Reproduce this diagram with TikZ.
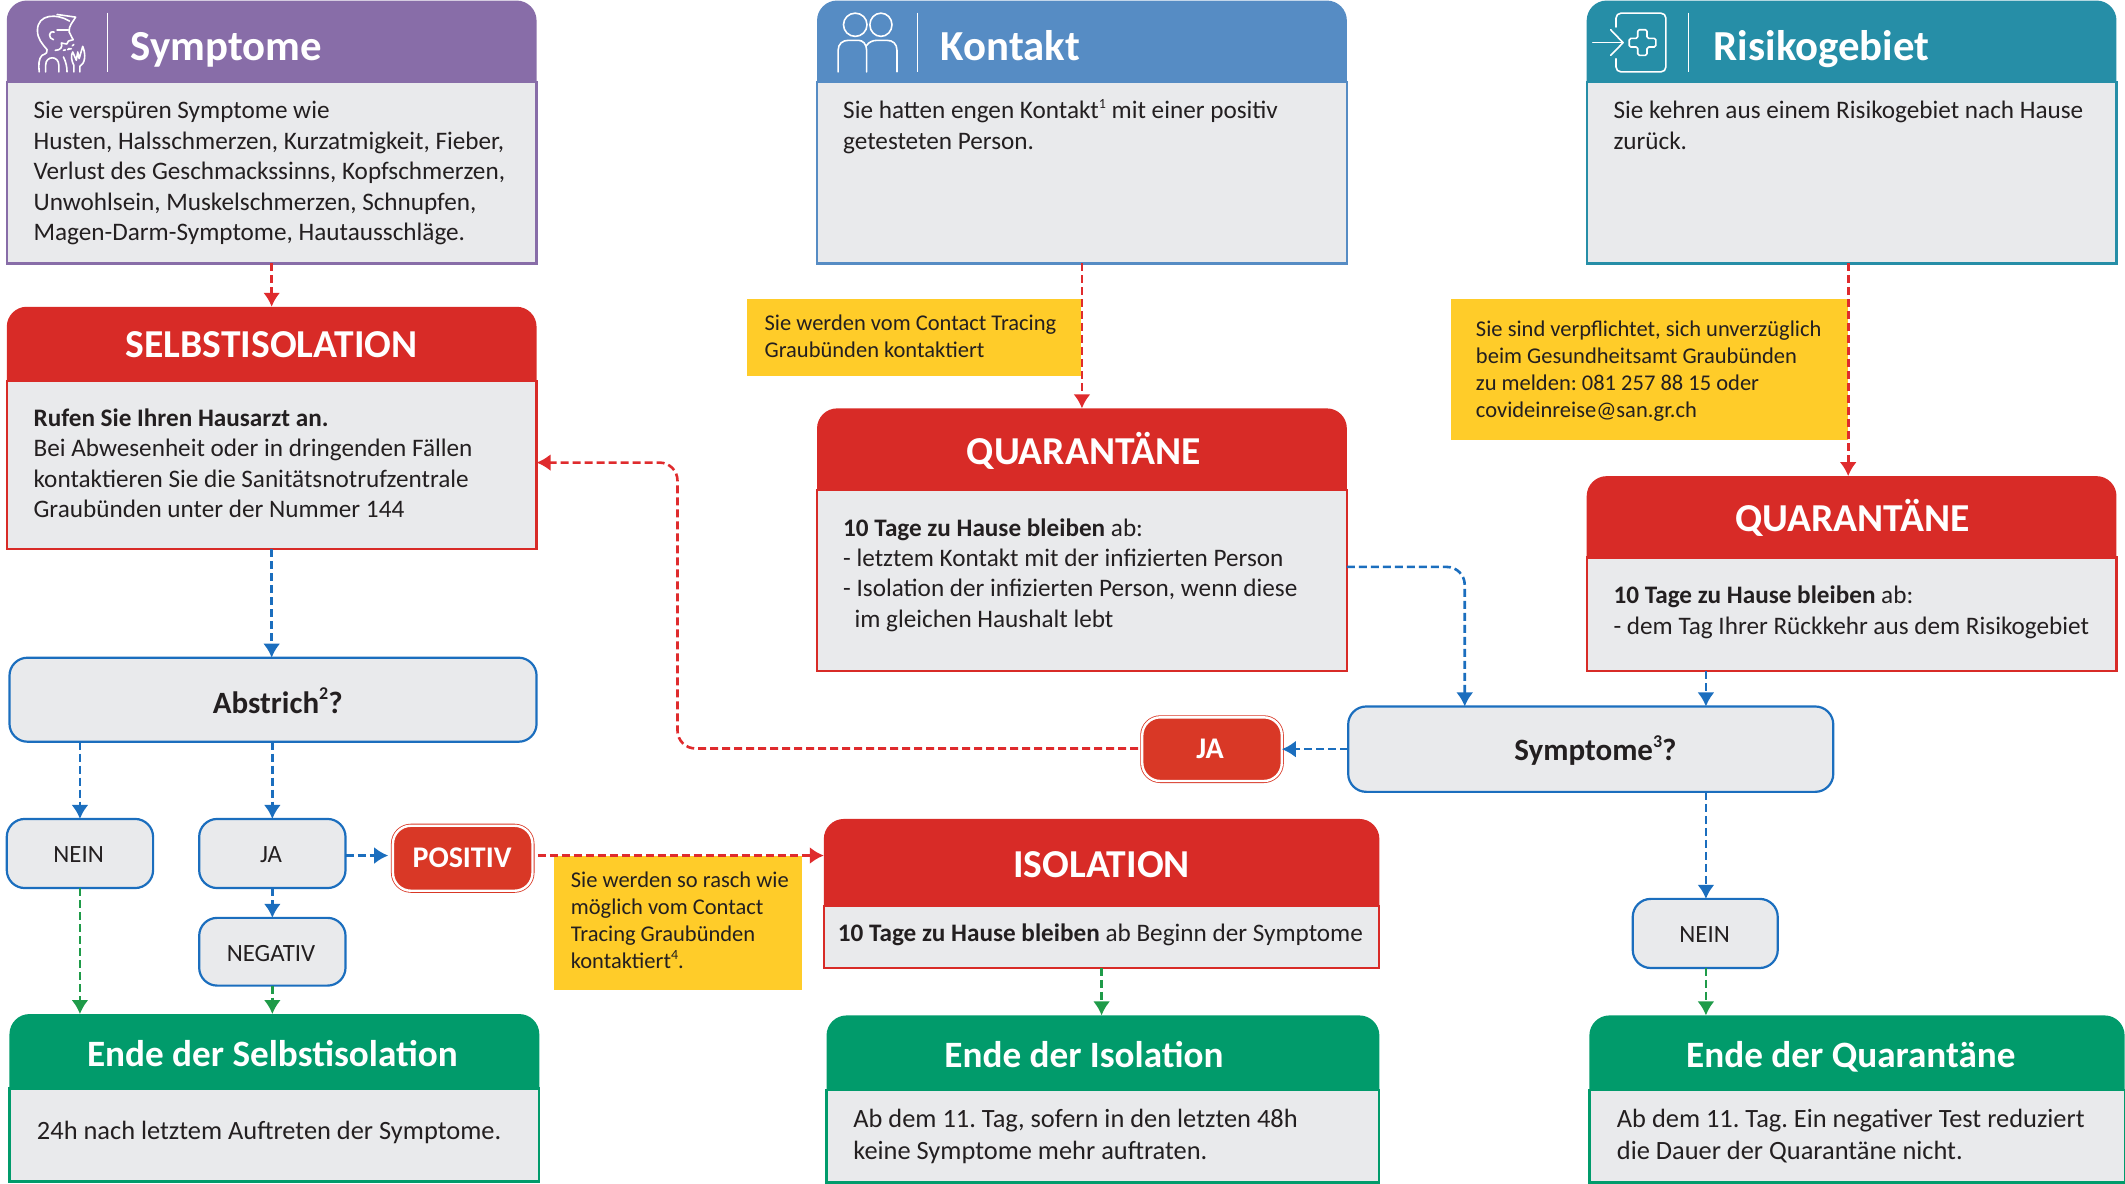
\documentclass[tikz,border=0pt]{standalone}
\usepackage{fontspec}
\setmainfont{Carlito}
\usetikzlibrary{arrows.meta,fit,calc}
\definecolor{bodygray}{HTML}{E9EAEC}
\definecolor{cpurple}{HTML}{886DA8}
\definecolor{cblue}{HTML}{568CC4}
\definecolor{cteal}{HTML}{268EA7}
\definecolor{cred}{HTML}{D82B27}
\definecolor{cgreen}{HTML}{019B6B}
\definecolor{cyellow}{HTML}{FFCC29}
\definecolor{flowblue}{HTML}{1B6EBE}
\definecolor{flowgreen}{HTML}{1F9B49}
\definecolor{flowred}{HTML}{DF2B2D}
\definecolor{pillred}{HTML}{D93826}
\definecolor{ink}{HTML}{231F20}
\newcommand{\supnum}[1]{\raisebox{.42em}{\fontsize{7}{8}\selectfont #1}}
\newcommand{\supbold}[1]{\raisebox{.45em}{\fontsize{9}{10}\selectfont #1}}
\tikzset{
  panelbody/.style={inner sep=0pt,outer sep=0pt,fill=bodygray,line width=1.1pt},
  panelhead/.style={inner sep=0pt,outer sep=0pt},
  titleleft/.style={text=white,inner sep=0pt,anchor=base west,font=\fontsize{21.4}{24}\selectfont\bfseries},
  titlemid/.style={text=white,inner sep=0pt,anchor=base,font=\fontsize{19.8}{22}\selectfont\bfseries},
  titleend/.style={text=white,inner sep=0pt,anchor=base,font=\fontsize{18.6}{22}\selectfont\bfseries},
  bodytext/.style={text=ink,inner sep=0pt,anchor=north west,align=left,font=\fontsize{12.6}{15.2}\selectfont\frenchspacing},
  endtext/.style={text=ink,inner sep=0pt,anchor=north west,align=left,font=\fontsize{13.2}{15.7}\selectfont\frenchspacing},
  yellowtext/.style={text=ink,inner sep=0pt,anchor=north west,align=left,font=\fontsize{11.25}{13.55}\selectfont\frenchspacing},
  yellowbox/.style={fill=cyellow,inner sep=0pt,outer sep=0pt},
  flowbox/.style={draw=flowblue,fill=bodygray,line width=1.1pt,rounded corners=9pt,inner sep=0pt,outer sep=0pt},
  pill/.style={draw=pillred,double=white,double distance=1.2pt,line width=.4pt,fill=pillred,rounded corners=9pt,inner sep=0pt,outer sep=0pt},
  flowlabel/.style={text=ink,inner sep=0pt,font=\fontsize{12.4}{15}\selectfont},
  boldlabel/.style={text=ink,inner sep=0pt,font=\fontsize{15.5}{18}\selectfont\bfseries},
  pilllabel/.style={text=white,inner sep=0pt,font=\fontsize{15}{17}\selectfont\bfseries},
  flowline/.style={line width=1.3pt,dash pattern=on 4pt off 2pt,-{Latex[length=7pt,width=8.5pt]}},
  bluearrow/.style={flowline,draw=flowblue},
  greenarrow/.style={flowline,draw=flowgreen},
  redarrow/.style={flowline,draw=flowred},
  iconline/.style={draw=white,line width=.8pt,line cap=round,line join=round,fill=none},
  iconscope/.style={x=0.1783pt,y=-0.166pt}
}
% name, x1, x2, ytop, yhead, ybottom, colour
\newcommand{\panel}[7]{%
  \pgfmathsetmacro{\panelextra}{#5+15}
  \fill[#7,rounded corners=10pt] (#2,#4) rectangle (#3,\panelextra);
  \node[panelhead,fit={(#2,#4)(#3,#5)}] (#1h) {};
  \node[panelbody,draw=#7,fit={(#2,#5)(#3,#6)}] (#1b) {};
}
\begin{document}
\begin{tikzpicture}[x=0.6775pt,y=-0.6775pt]
\useasboundingbox (0,-0.4) rectangle (1568.3,873.4);

% panels
\panel{sym}{5}{396}{0}{60}{194}{cpurple}
\panel{kon}{603}{994}{0}{60}{194}{cblue}
\panel{ris}{1171}{1562}{0}{60}{194}{cteal}
\panel{sel}{5}{396}{226}{281}{405}{cred}
\panel{qa}{603}{994}{301}{361}{495}{cred}
\panel{qb}{1171}{1562}{351}{411}{495}{cred}
\panel{iso}{608}{1018}{604}{668}{714}{cred}
\panel{ea}{7}{398}{748}{803}{871.5}{cgreen}
\panel{eb}{610}{1018}{749}{804}{872.3}{cgreen}
\panel{ec}{1173}{1568}{749}{804}{872.3}{cgreen}

% header titles
\node[titleleft] (tsym) at (96,44.5) {Symptome};
\node[titleleft] (tkon) at (694,44.5) {Kontakt};
\node[titleleft] (tris) at (1264.5,44.5) {Risikogebiet};
\node[titlemid] (tsel) at (200.5,263.5) {SELBSTISOLATION};
\node[titlemid] (tqa) at (800,342.5) {QUARANTÄNE};
\node[titlemid] (tqb) at (1367,391.5) {QUARANTÄNE};
\node[titlemid] (tiso) at (813,647.5) {ISOLATION};
\node[titleend] (tea) at (201,786.5) {Ende der Selbstisolation};
\node[titleend] (teb) at (800,787.5) {Ende der Isolation};
\node[titleend] (tec) at (1366,787.5) {Ende der Quarantäne};

% header separators
\coordinate (sepa1) at (79.7,9); \coordinate (sepa2) at (79.7,52.7);
\coordinate (sepb1) at (677.3,9); \coordinate (sepb2) at (677.3,52.7);
\coordinate (sepc1) at (1246.3,9); \coordinate (sepc2) at (1246.3,52.7);
\draw[white,line width=.5pt] (sepa1) -- (sepa2);
\draw[white,line width=.5pt] (sepb1) -- (sepb2);
\draw[white,line width=.5pt] (sepc1) -- (sepc2);

% icons
\begin{scope}[iconscope]
  \draw[iconline] (195,62) .. controls (160,38) and (105,40) .. (105,90) .. controls (105,115) and (118,130) .. (132,148) .. controls (135,155) and (130,160) .. (118,165) .. controls (108,175) and (108,195) .. (110,215);
  \draw[iconline] (160,42) -- (212,50) .. controls (205,65) and (192,75) .. (194,95) -- (205,118) -- (192,122) .. controls (190,130) and (185,135) .. (182,130) -- (172,128) .. controls (176,140) and (170,150) .. (155,150);
  \draw[iconline] (160,88) -- (192,88);
  \draw[iconline] (152,95) .. controls (135,90) and (135,115) .. (150,118);
  \draw[iconline] (128,215) -- (128,195) .. controls (128,165) and (165,165) .. (165,195) -- (165,215);
  \draw[iconline] (178,170) .. controls (185,185) and (188,200) .. (188,215);
  \draw[iconline] (207,215) -- (207,195) .. controls (200,180) and (198,165) .. (204,155) -- (214,180) -- (218,155) -- (222,175) -- (232,138) .. controls (242,165) and (238,190) .. (224,198) -- (224,215);
  \draw[iconline,dash pattern=on 1pt off 2pt] (190,148) -- (215,125);
  \draw[iconline,dash pattern=on 1pt off 2pt] (178,150) -- (200,145);
\end{scope}
\begin{scope}[shift={(590.4,0)},iconscope]
  \draw[iconline] (155,73) ellipse [x radius=33,y radius=35];
  \draw[iconline] (227,73) ellipse [x radius=31,y radius=35];
  \draw[iconline] (107,215) -- (107,150) .. controls (107,130) and (120,120) .. (135,120) -- (165,120) .. controls (175,120) and (187,130) .. (187,150) -- (187,215);
  \draw[iconline] (187,135) .. controls (193,125) and (205,120) .. (215,120) -- (245,120) .. controls (260,120) and (272,130) .. (272,150) -- (272,215);
\end{scope}
\begin{scope}[shift={(1155,0)},iconscope]
  \draw[iconline,rounded corners=2.5pt] (143,80) -- (143,38) -- (283,38) -- (283,215) -- (143,215) -- (143,175);
  \draw[iconline] (78,127) -- (163,127);
  \draw[iconline] (128,88) -- (163,127) -- (128,165);
  \draw[iconline,rounded corners=.8pt] (204,88) -- (230,88) -- (230,114) -- (255,114) -- (255,140) -- (230,140) -- (230,165) -- (204,165) -- (204,140) -- (180,140) -- (180,114) -- (204,114) -- cycle;
\end{scope}

% body texts
\node[bodytext] (xsym) at (24.5,71.3) {\strut Sie verspüren Symptome wie\\Husten, Halsschmerzen, Kurzatmigkeit, Fieber,\\Verlust des Geschmackssinns, Kopfschmerzen,\\Unwohlsein, Muskelschmerzen, Schnupfen,\\Magen-Darm-Symptome, Hautausschläge.};
\node[bodytext] (xkon) at (622,71.3) {\strut Sie hatten engen Kontakt\supnum{1} mit einer positiv\\getesteten Person.};
\node[bodytext] (xris) at (1190.5,71.3) {\strut Sie kehren aus einem Risikogebiet nach Hause\\zurück.};
\node[bodytext] (xsel) at (24.5,298.3) {\strut\textbf{Rufen Sie Ihren Hausarzt an.}\\Bei Abwesenheit oder in dringenden Fällen\\kontaktieren Sie die Sanitätsnotrufzentrale\\Graubünden unter der Nummer 144};
\node[bodytext] (xqa) at (622,379.3) {\strut\textbf{10 Tage zu Hause bleiben} ab:\\- letztem Kontakt mit der infizierten Person\\- Isolation der infizierten Person, wenn diese\\\hspace*{.45em}im gleichen Haushalt lebt};
\node[bodytext] (xqb) at (1190.5,429.3) {\strut\textbf{10 Tage zu Hause bleiben} ab:\\- dem Tag Ihrer Rückkehr aus dem Risikogebiet};
\node[bodytext] (xiso) at (618,678.3) {\strut\textbf{10 Tage zu Hause bleiben} ab Beginn der Symptome};
\node[endtext] (xea) at (27,824.3) {\strut 24h nach letztem Auftreten der Symptome.};
\node[endtext] (xeb) at (629.5,815.5) {\strut Ab dem 11. Tag, sofern in den letzten 48h\\keine Symptome mehr auftraten.};
\node[endtext] (xec) at (1193,815.5) {\strut Ab dem 11. Tag. Ein negativer Test reduziert\\die Dauer der Quarantäne nicht.};

% yellow notes
\node[yellowbox,fit={(551,220)(798,277)}] (ya) {};
\node[yellowbox,fit={(1071,220)(1364,324)}] (yb) {};
\node[yellowbox,fit={(409,631)(592,730)}] (yc) {};
\node[yellowtext] (xya) at (564,229.3) {\strut Sie werden vom Contact Tracing\\Graubünden kontaktiert};
\node[yellowtext] (xyb) at (1089,233.3) {\strut Sie sind verpflichtet, sich unverzüglich\\beim Gesundheitsamt Graubünden\\zu melden: 081 257 88 15 oder\\covideinreise@san.gr.ch};
\node[yellowtext] (xyc) at (421,640.3) {\strut Sie werden so rasch wie\\möglich vom Contact\\Tracing Graubünden\\kontaktiert\supnum{4}.};

% decision and answer nodes
\node[flowbox,fit={(7,485)(396,547)}] (abs) {};
\node[boldlabel] (xabs) at (205,516.5) {Abstrich\supbold{2}?};
\node[flowbox,fit={(5,604)(113,655)}] (nein) {};
\node[flowlabel] (xnein) at (58,630) {NEIN};
\node[flowbox,fit={(147,604)(255,655)}] (ja) {};
\node[flowlabel] (xja) at (200,630) {JA};
\node[flowbox,fit={(147,677)(255,727)}] (neg) {};
\node[flowlabel] (xneg) at (200,703) {NEGATIV};
\node[pill,fit={(290,609)(393,657)}] (pos) {};
\node[pilllabel] (xpos) at (341,633) {POSITIV};
\node[pill,fit={(843,529)(946,576)}] (jar) {};
\node[pilllabel] (xjar) at (893,552) {JA};
\node[flowbox,fit={(995,521)(1353,584)}] (sq) {};
\node[boldlabel] (xsq) at (1177.5,553.5) {Symptome\supbold{3}?};
\node[flowbox,fit={(1205,663)(1312,714)}] (neinb) {};
\node[flowlabel] (xneinb) at (1258,689) {NEIN};

% connector helper points
\coordinate (rq) at (1364,194);
\coordinate (qq) at (994,418);
\coordinate (qs) at (1081,521);
\coordinate (qbs) at (1259,521);
\coordinate (sn) at (1259,584);
\coordinate (jaout) at (840,552);
\coordinate (bend) at (500,552);
\coordinate (selin) at (396,341);
\coordinate (posout) at (397,631);
\coordinate (isoin) at (608,631);
\coordinate (isoout) at (813,714);
\coordinate (neout) at (1259,714);
\coordinate (jaarrow) at (286.5,631);

% connectors
\draw[redarrow] (symb.south) -- (selh.north);
\draw[redarrow] (konb.south) -- (qah.north);
\draw[redarrow] (risb.south -| rq) -- (qbh.north -| rq);
\draw[bluearrow] (selb.south) -- (abs.north -| selb.south);
\draw[bluearrow] (abs.south -| nein.north) -- (nein.north);
\draw[bluearrow] (abs.south -| ja.north) -- (ja.north);
\draw[bluearrow] (ja.south) -- (neg.north);
\draw[bluearrow] (ja.east |- jaarrow) -- (jaarrow);
\draw[greenarrow] (nein.south) -- (eah.north -| nein.south);
\draw[greenarrow] (neg.south) -- (eah.north -| neg.south);
\draw[redarrow] (posout) -- (isoin);
\draw[greenarrow] (isoout) -- (ebh.north -| isoout);
\draw[bluearrow,rounded corners=9pt] (qq) -- (qq -| qs) -- (qs);
\draw[bluearrow] (qbb.south -| qbs) -- (qbs);
\draw[bluearrow] (sq.west) -- (jar.east);
\draw[redarrow,rounded corners=9pt] (jaout) -- (bend) -- (bend |- selin) -- (selin);
\draw[bluearrow] (sn) -- (neinb.north -| sn);
\draw[greenarrow] (neout) -- (ech.north -| neout);
\end{tikzpicture}
\end{document}
